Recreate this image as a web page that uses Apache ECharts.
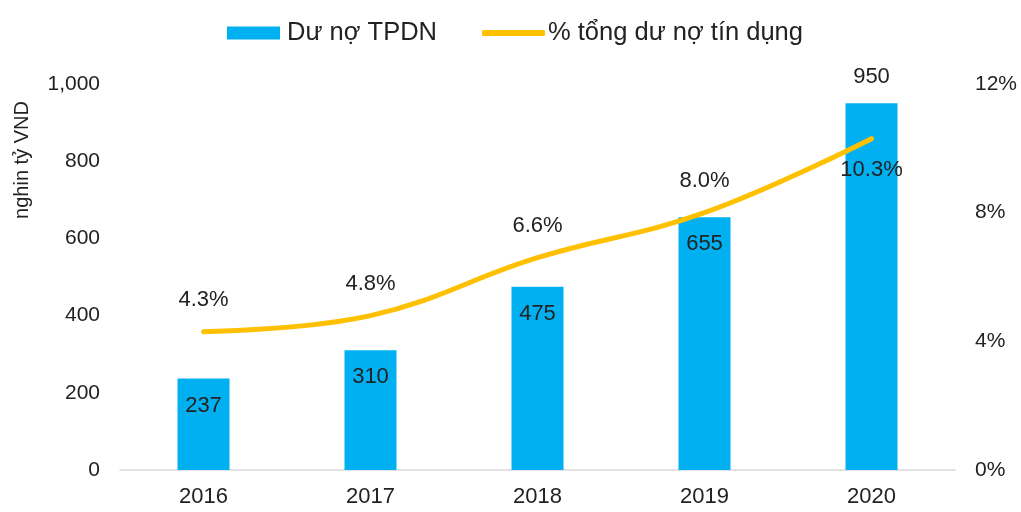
<!DOCTYPE html>
<html>
<head>
<meta charset="utf-8">
<script src="https://cdn.jsdelivr.net/npm/echarts@6/dist/echarts.min.js"></script>
<style>
  html, body { margin: 0; padding: 0; background: #fff; }
  #chart { width: 1021px; height: 512px; }
</style>
</head>
<body>
<div id="chart"></div>
<script>
const years = ['2016', '2017', '2018', '2019', '2020'];
const duNo = [237, 310, 475, 655, 950];          // nghìn tỷ VND
const tyLe = [4.3, 4.8, 6.6, 8.0, 10.3];          // % tổng dư nợ tín dụng
const leftTicks = [0, 200, 400, 600, 800, 1000];
const rightTicks = [0, 4, 8, 12];

const FONT = '"Liberation Sans", Arial, sans-serif';
const TXT = '#222';
const BLUE = '#00B0F0';
const YELLOW = '#FFC000';

const myChart = echarts.init(document.getElementById('chart'));

const option = {
  animation: false,
  textStyle: { fontFamily: FONT },
  legend: [{
    top: 15,
    left: 222,
    itemWidth: 53,
    itemHeight: 13,
    icon: 'rect',
    textStyle: { fontSize: 25.5, color: TXT, fontFamily: FONT, padding: [0, 0, 0, 2] },
    data: ['Dư nợ TPDN']
  }, {
    top: 15,
    left: 477,
    itemWidth: 63,
    itemHeight: 6,
    icon: 'roundRect',
    itemStyle: { color: YELLOW, opacity: 1 },
    textStyle: { fontSize: 25.5, color: TXT, fontFamily: FONT, padding: [0, 0, 0, -2] },
    data: ['% tổng dư nợ tín dụng']
  }],
  grid: { left: 120, right: 66, top: 84, bottom: 42 },
  graphic: [{
    type: 'text',
    rotation: Math.PI / 2,
    x: 22,
    y: 160,
    style: { text: 'nghin tỷ VND', font: '20px ' + FONT, fill: TXT, align: 'center', verticalAlign: 'middle' }
  }],
  xAxis: {
    type: 'category',
    data: years,
    axisLine: { lineStyle: { color: '#d9d9d9', width: 1.5 } },
    axisTick: { show: false },
    axisLabel: { fontSize: 22, color: TXT, margin: 16 }
  },
  yAxis: [{
    type: 'value',
    min: leftTicks[0],
    max: leftTicks[leftTicks.length - 1],
    interval: 200,
    axisLine: { show: false },
    axisTick: { show: false },
    splitLine: { show: false },
    axisLabel: {
      fontSize: 21, color: TXT, margin: 20,
      formatter: v => v.toLocaleString('en-US')
    }
  }, {
    type: 'value',
    min: rightTicks[0],
    max: rightTicks[rightTicks.length - 1],
    interval: 4,
    axisLine: { show: false },
    axisTick: { show: false },
    splitLine: { show: false },
    axisLabel: { fontSize: 21, color: TXT, margin: 20, formatter: '{value}%' }
  }],
  series: [{
    name: 'Dư nợ TPDN',
    type: 'bar',
    barWidth: 52,
    itemStyle: { color: BLUE },
    data: duNo.map((v, i) => ({
      value: v,
      label: i === duNo.length - 1
        ? { position: 'top', distance: 15 }
        : { position: 'insideTop', distance: 16 }
    })),
    label: { show: true, fontSize: 22, color: TXT }
  }, {
    name: '% tổng dư nợ tín dụng',
    type: 'line',
    yAxisIndex: 1,
    smooth: 0.4,
    showSymbol: true,
    symbol: 'circle',
    symbolSize: 1,
    lineStyle: { color: YELLOW, width: 5, cap: 'round' },
    itemStyle: { color: YELLOW },
    data: tyLe.map((v, i) => ({
      value: v,
      label: { position: i === tyLe.length - 1 ? 'bottom' : 'top' }
    })),
    label: {
      show: true,
      fontSize: 22,
      color: TXT,
      distance: 20,
      formatter: p => p.value.toFixed(1) + '%'
    },
    z: 3
  }]
};

myChart.setOption(option);
</script>
</body>
</html>
